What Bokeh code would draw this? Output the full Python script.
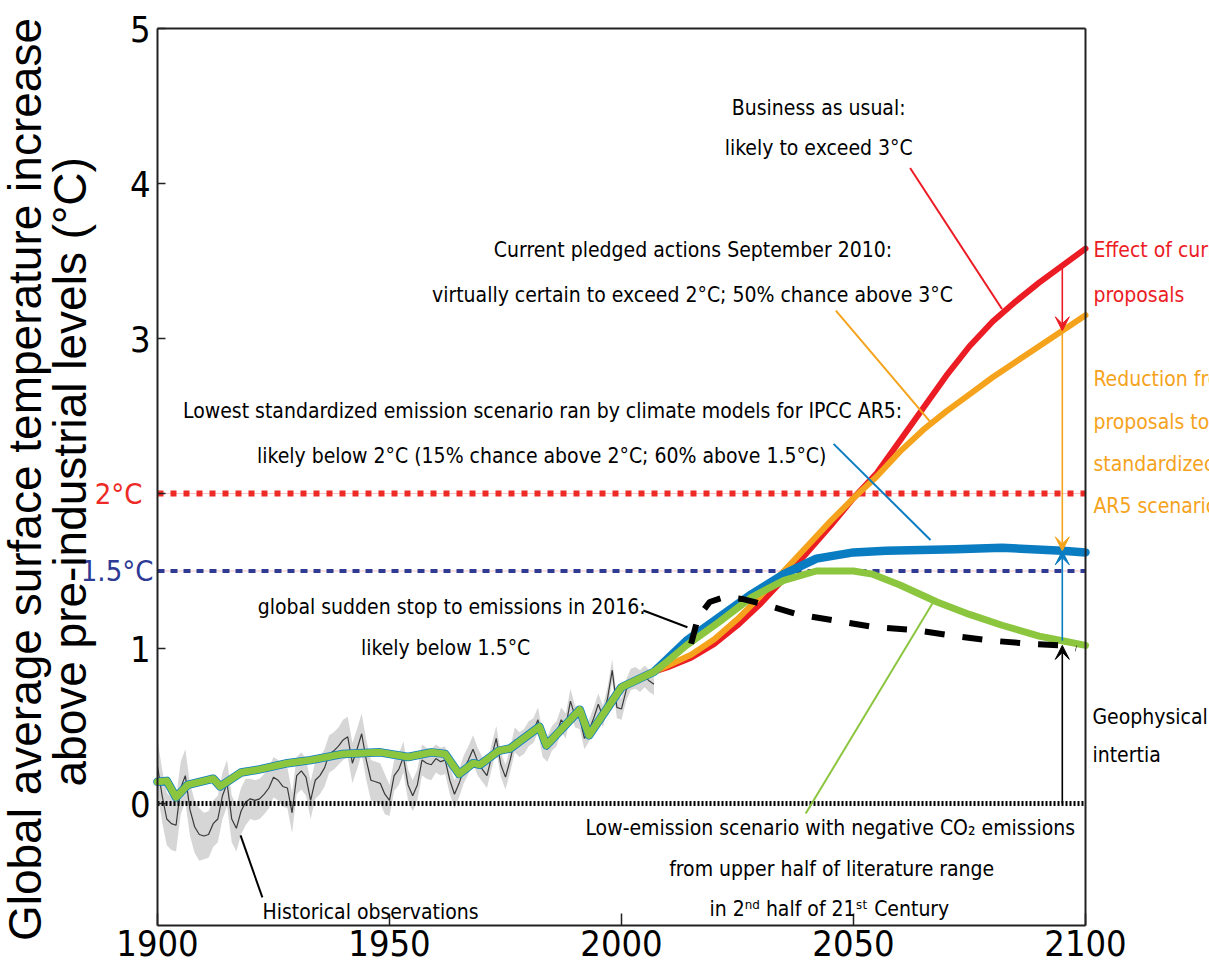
import numpy as np
from bokeh.plotting import figure
from bokeh.models import Range1d, FixedTicker, Label, Arrow, VeeHead, LinearAxis
from bokeh.embed import file_html
from bokeh.resources import INLINE

# ---------------- data ----------------
obs_years = list(range(1900, 2008))
obs_vals = [
    0.24, 0.05, -0.10, -0.13, -0.14, 0.10, 0.18, -0.04, -0.15, -0.20,
    -0.21, -0.20, -0.13, -0.10, 0.05, 0.13, -0.10, -0.16, -0.05, 0.01,
    0.03, 0.02, 0.03, 0.06, 0.10, 0.17, 0.15, 0.11, 0.10, -0.06,
    0.18, 0.21, 0.17, 0.02, 0.15, 0.18, 0.23, 0.32, 0.34, 0.37,
    0.41, 0.43, 0.26, 0.35, 0.45, 0.28, 0.15, 0.14, 0.13, 0.06,
    0.02, 0.18, 0.22, 0.30, 0.12, 0.05, 0.12, 0.28, 0.26, 0.25,
    0.29, 0.27, 0.28, 0.15, 0.06, 0.13, 0.22, 0.28, 0.35, 0.27,
    0.22, 0.18, 0.30, 0.42, 0.25, 0.17, 0.28, 0.41, 0.38, 0.40,
    0.45, 0.47, 0.54, 0.38, 0.35, 0.42, 0.45, 0.54, 0.50, 0.66,
    0.56, 0.55, 0.42, 0.47, 0.55, 0.64, 0.56, 0.68, 0.86, 0.62,
    0.61, 0.73, 0.80, 0.81, 0.79, 0.82, 0.79, 0.77,
]
# uncertainty half-width of the grey band, one value per decade 1900s..2000s
obs_unc_by_decade = [0.17, 0.15, 0.13, 0.12, 0.13, 0.10, 0.09, 0.08, 0.08, 0.07, 0.07]

# smoothed historical fit (common to all scenarios)
hist_years = [1900, 1902, 1904, 1906.5, 1912, 1913.5, 1918, 1922, 1928, 1933, 1940,
              1948, 1954, 1959, 1962, 1965, 1968, 1969.5, 1973.5, 1976, 1982.3,
              1983.8, 1991, 1993, 2000, 2007]
hist_vals = [0.14, 0.146, 0.04, 0.12, 0.16, 0.11, 0.20, 0.22, 0.26, 0.28, 0.32,
             0.33, 0.30, 0.33, 0.32, 0.19, 0.26, 0.25, 0.34, 0.355, 0.495,
             0.375, 0.605, 0.44, 0.75, 0.85]

# scenarios
bau_years = [2007, 2010, 2015, 2020, 2025, 2030, 2035, 2040, 2045, 2050, 2055,
             2060, 2065, 2070, 2075, 2080, 2085, 2090, 2095, 2100]
bau_vals = [0.85, 0.88, 0.94, 1.03, 1.15, 1.29, 1.45, 1.62, 1.79, 1.97, 2.13,
            2.34, 2.55, 2.76, 2.95, 3.11, 3.24, 3.36, 3.47, 3.58]

pledge_years = [2007, 2010, 2015, 2020, 2025, 2030, 2035, 2040, 2045, 2050, 2055,
                2060, 2065, 2070, 2075, 2080, 2085, 2090, 2095, 2100]
pledge_vals = [0.85, 0.89, 0.96, 1.06, 1.19, 1.34, 1.50, 1.66, 1.82, 1.97, 2.11,
               2.27, 2.41, 2.53, 2.64, 2.75, 2.85, 2.95, 3.05, 3.15]

ar5_years = [2007, 2014, 2021, 2028, 2035, 2042, 2050, 2057, 2072, 2082, 2095, 2100]
ar5_vals = [0.86, 1.05, 1.20, 1.35, 1.48, 1.58, 1.62, 1.63, 1.64, 1.65, 1.63, 1.62]

low_years = [2007, 2010, 2014, 2021, 2028, 2035, 2042, 2050, 2054, 2060, 2068,
             2075, 2082, 2090, 2095, 2100]
low_vals = [0.85, 0.92, 1.02, 1.17, 1.33, 1.44, 1.50, 1.50, 1.48, 1.41, 1.30,
            1.22, 1.15, 1.08, 1.05, 1.02]

stop_years = [2015, 2016.5, 2019, 2022, 2026, 2030, 2038, 2046, 2054, 2063, 2072,
              2080, 2088, 2095, 2098]
stop_vals = [1.03, 1.20, 1.30, 1.33, 1.32, 1.29, 1.22, 1.18, 1.14, 1.12, 1.08,
             1.05, 1.03, 1.02, 1.00]

zero_level, level_15, level_2 = 0.0, 1.5, 2.0
arrow_year = 2095

x_ticks = [1900, 1950, 2000, 2050, 2100]
y_ticks = [0, 1, 2, 3, 4, 5]
x_min, x_max = 1900, 2100
y_min, y_max = -0.787, 5.0

# ---------------- styles / layout ----------------
RED = "#ec1c24"
ORANGE = "#f5a31c"
BLUE = "#0a7dc2"
GREEN = "#8cc63f"
DBLUE = "#2e3a94"
COND = ("'Noto Sans ExtraCondensed', 'Noto Sans Condensed', 'DejaVu Sans Condensed', "
        "'Liberation Sans Narrow', 'Liberation Sans', sans-serif")
SANS = "Liberation Sans"
TXT = "21px"

W, H = 1209, 974
BOX_LEFT, BOX_RIGHT = 157, 1085      # canvas px of 1900 and 2100
BOX_TOP, ZERO_PX = 28, 803           # canvas px of 5 and 0
px_per_year = (BOX_RIGHT - BOX_LEFT) / (x_max - x_min)
px_per_deg = (ZERO_PX - BOX_TOP) / y_max
x_lo = x_min - BOX_LEFT / px_per_year
x_hi = x_min + (W - BOX_LEFT) / px_per_year
y_hi = y_max + BOX_TOP / px_per_deg
y_lo = -(H - ZERO_PX) / px_per_deg

p = figure(width=W, height=H, x_range=Range1d(x_lo, x_hi), y_range=Range1d(y_lo, y_hi),
           output_backend="svg", toolbar_location=None,
           min_border_left=0, min_border_right=0, min_border_top=0, min_border_bottom=0)
p.xgrid.visible = False
p.ygrid.visible = False
p.outline_line_color = None
p.background_fill_color = "white"
p.border_fill_color = "white"


def style_axis(ax, tick_in, size="36px"):
    ax.axis_line_width = 2
    ax.axis_line_color = "#222222"
    ax.major_tick_out = 0
    ax.major_tick_in = tick_in
    ax.minor_tick_in = 0
    ax.minor_tick_out = 0
    ax.major_tick_line_color = "#222222"
    ax.major_tick_line_width = 1.5
    ax.major_label_text_font = COND
    ax.major_label_text_font_size = size
    ax.major_label_text_color = "black"


# bottom axis, on the lower edge of the box
xa = p.xaxis[0]
style_axis(xa, 12)
xa.ticker = FixedTicker(ticks=x_ticks)
xa.bounds = (x_min, x_max)
xa.fixed_location = y_min
xa.major_label_standoff = 5

# left axis at 1900
ya = p.yaxis[0]
style_axis(ya, 8)
ya.ticker = FixedTicker(ticks=y_ticks)
ya.bounds = (y_min, y_max)
ya.fixed_location = x_min
ya.major_label_standoff = 7
ya.major_label_overrides = {2: ""}

# coloured threshold labels on the left axis
ax2 = LinearAxis(ticker=FixedTicker(ticks=[level_2]), fixed_location=x_min,
                 major_label_overrides={level_2: "2°C"})
style_axis(ax2, 0, "29px")
ax2.axis_line_color = None
ax2.major_label_text_color = "#ee2a27"
ax2.major_label_standoff = 15
p.add_layout(ax2, "left")

ax15 = LinearAxis(ticker=FixedTicker(ticks=[level_15]), fixed_location=x_min,
                  major_label_overrides={level_15: "1.5°C"})
style_axis(ax15, 0, "29px")
ax15.axis_line_color = None
ax15.major_label_text_color = DBLUE
ax15.major_label_standoff = 4
p.add_layout(ax15, "left")

# top and right edges of the box
top_ax = LinearAxis(ticker=FixedTicker(ticks=[]), fixed_location=y_max, bounds=(x_min, x_max))
style_axis(top_ax, 0)
p.add_layout(top_ax, "above")
right_ax = LinearAxis(ticker=FixedTicker(ticks=[]), fixed_location=x_max, bounds=(y_min, y_max))
style_axis(right_ax, 0)
p.add_layout(right_ax, "right")

x_span = [x_min, x_max]

# ---------------- observations ----------------
unc = np.repeat(obs_unc_by_decade, 10)[:len(obs_years)]
obs = np.array(obs_vals)
p.varea(x=obs_years, y1=obs - unc, y2=obs + unc, fill_color="#d6d6d6")
p.line(obs_years, obs_vals, line_color="#3a3a3a", line_width=1.2)

# ---------------- threshold lines ----------------
for lvl, col, w, dash in [(level_2, "#ee2a27", 6, "6 7"), (level_15, DBLUE, 4, "7 6")]:
    p.line(x_span, [lvl, lvl], line_color="#f5c4c4", line_width=1)
    p.line(x_span, [lvl, lvl], line_color=col, line_width=w, line_dash=dash)
p.line(x_span, [zero_level, zero_level], line_color="black", line_width=5, line_dash="2 2")

# ---------------- scenario curves ----------------
p.line(bau_years, bau_vals, line_color=RED, line_width=6, line_join="round", line_cap="round")
p.line(pledge_years, pledge_vals, line_color=ORANGE, line_width=6, line_join="round", line_cap="round")
p.line(hist_years + ar5_years[1:], hist_vals + ar5_vals[1:], line_color=BLUE, line_width=8.5,
       line_join="round", line_cap="round")
p.line(hist_years + low_years[1:], hist_vals + low_vals[1:], line_color=GREEN, line_width=7,
       line_join="round", line_cap="round")
p.line(stop_years, stop_vals, line_color="black", line_width=6, line_dash="20 18")

# ---------------- leader lines ----------------
leaders = dict(
    x0=[2062.2, 2046.2, 2045.7, 2004.7, 2067.0, 1917.9],
    y0=[4.10, 3.18, 2.32, 1.245, 1.29, -0.206],
    x1=[2082.0, 2066.6, 2066.6, 2014.2, 2039.7, 1922.6],
    y1=[3.19, 2.46, 1.70, 1.137, -0.065, -0.606],
    color=[RED, ORANGE, BLUE, "black", GREEN, "black"],
)
p.segment(x0="x0", y0="y0", x1="x1", y1="y1", line_color="color", line_width=2, source=leaders)

# ---------------- arrows ----------------
def at(years, vals):
    return dict(zip(years, vals))[arrow_year]

for c, ys, ye in [
    (RED, at(bau_years, bau_vals), at(pledge_years, pledge_vals)),
    (ORANGE, at(pledge_years, pledge_vals), at(ar5_years, ar5_vals)),
    (BLUE, at(low_years, low_vals), at(ar5_years, ar5_vals)),
    ("black", zero_level, at(stop_years, stop_vals)),
]:
    p.add_layout(Arrow(end=VeeHead(size=14, fill_color=c, line_color=c, line_width=1),
                       x_start=arrow_year, y_start=ys, x_end=arrow_year, y_end=ye,
                       line_color=c, line_width=1.6))

# ---------------- texts ----------------
def lab(x, y, text, color="black", align="center", size=TXT, font=COND, angle=0):
    p.add_layout(Label(x=x, y=y, text=text, text_color=color, text_align=align,
                       text_baseline="middle", text_font=font, text_font_size=size,
                       angle=angle))

lab(2042.5, 4.49, "Business as usual:")
lab(2042.5, 4.23, "likely to exceed 3°C")
lab(2015.4, 3.57, "Current pledged actions September 2010:")
lab(2015.3, 3.28, "virtually certain to exceed 2°C; 50% chance above 3°C")
lab(1983.0, 2.53, "Lowest standardized emission scenario ran by climate models for IPCC AR5:")
lab(1982.8, 2.245, "likely below 2°C (15% chance above 2°C; 60% above 1.5°C)")
lab(1963.4, 1.27, "global sudden stop to emissions in 2016:")
lab(1962.1, 1.006, "likely below 1.5°C")
lab(1945.9, -0.70, "Historical observations")
lab(2045.0, -0.16, "Low-emission scenario with negative CO₂ emissions")
lab(2045.3, -0.42, "from upper half of literature range")
lab(2044.8, -0.68, "in 2ⁿᵈ half of 21ˢᵗ Century")

lab(2101.5, 0.56, "Geophysical", align="left")
lab(2101.5, 0.31, "intertia", align="left")
lab(2101.7, 3.57, "Effect of current", color=RED, align="left")
lab(2101.7, 3.28, "proposals", color=RED, align="left")
lab(2101.7, 2.74, "Reduction from", color=ORANGE, align="left")
lab(2101.7, 2.46, "proposals to", color=ORANGE, align="left")
lab(2101.7, 2.19, "standardized", color=ORANGE, align="left")
lab(2101.7, 1.92, "AR5 scenario", color=ORANGE, align="left")

# y-axis title (two rotated lines)
lab(1871.5, 2.09, "Global average surface temperature increase", size="46px",
    font=SANS, angle=np.pi / 2)
lab(1881.2, 2.14, "above pre-industrial levels (°C)", size="46px",
    font=SANS, angle=np.pi / 2)

open("out.html", "w").write(file_html(p, INLINE, title="Temperature scenarios"))
